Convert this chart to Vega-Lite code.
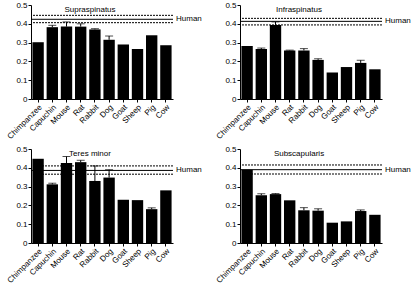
{
  "$schema": "https://vega.github.io/schema/vega-lite/v6.json",
  "padding": {"left": 5, "top": 1, "right": 0, "bottom": 0},
  "bounds": "flush",
  "spacing": {"column": 67, "row": 50},
  "columns": 2,
  "config": {
    "font": "Liberation Sans",
    "view": {"stroke": null},
    "axis": {"domainColor": "#000", "tickColor": "#000", "labelColor": "#000", "titleColor": "#333", "grid": false, "labelFontSize": 8, "tickSize": 3, "labelPadding": 1, "labelOverlap": false},
    "axisX": {"title": null, "labelAngle": -45, "labelFontSize": 8},
    "axisY": {"title": "Lfb/Lmn", "titleFontSize": 7, "titleFontWeight": "normal", "titleFontStyle": "italic", "titlePadding": 4, "tickCount": 5, "labelExpr": "datum.value == 0 ? '0' : format(datum.value, '.1f')"},
    "bar": {"color": "#000"},
    "rule": {"color": "#000"},
    "tick": {"color": "#000", "thickness": 1},
    "text": {"color": "#000", "fontSize": 8}
  },
  "datasets": {
    "bars": [
      {"muscle": "Supraspinatus", "species": "Chimpanzee", "v": 0.302},
      {"muscle": "Supraspinatus", "species": "Capuchin", "v": 0.382, "e": 0.392},
      {"muscle": "Supraspinatus", "species": "Mouse", "v": 0.385, "e": 0.41},
      {"muscle": "Supraspinatus", "species": "Rat", "v": 0.385, "e": 0.4},
      {"muscle": "Supraspinatus", "species": "Rabbit", "v": 0.37, "e": 0.374},
      {"muscle": "Supraspinatus", "species": "Dog", "v": 0.315, "e": 0.335},
      {"muscle": "Supraspinatus", "species": "Goat", "v": 0.29},
      {"muscle": "Supraspinatus", "species": "Sheep", "v": 0.266},
      {"muscle": "Supraspinatus", "species": "Pig", "v": 0.339},
      {"muscle": "Supraspinatus", "species": "Cow", "v": 0.286},
      {"muscle": "Infraspinatus", "species": "Chimpanzee", "v": 0.282},
      {"muscle": "Infraspinatus", "species": "Capuchin", "v": 0.266, "e": 0.271},
      {"muscle": "Infraspinatus", "species": "Mouse", "v": 0.394, "e": 0.41},
      {"muscle": "Infraspinatus", "species": "Rat", "v": 0.258, "e": 0.26},
      {"muscle": "Infraspinatus", "species": "Rabbit", "v": 0.258, "e": 0.268},
      {"muscle": "Infraspinatus", "species": "Dog", "v": 0.208, "e": 0.214},
      {"muscle": "Infraspinatus", "species": "Goat", "v": 0.141},
      {"muscle": "Infraspinatus", "species": "Sheep", "v": 0.17},
      {"muscle": "Infraspinatus", "species": "Pig", "v": 0.192, "e": 0.206},
      {"muscle": "Infraspinatus", "species": "Cow", "v": 0.158},
      {"muscle": "Teres minor", "species": "Chimpanzee", "v": 0.448},
      {"muscle": "Teres minor", "species": "Capuchin", "v": 0.312, "e": 0.318},
      {"muscle": "Teres minor", "species": "Mouse", "v": 0.425, "e": 0.46},
      {"muscle": "Teres minor", "species": "Rat", "v": 0.43, "e": 0.44},
      {"muscle": "Teres minor", "species": "Rabbit", "v": 0.33, "e": 0.41},
      {"muscle": "Teres minor", "species": "Dog", "v": 0.348, "e": 0.39},
      {"muscle": "Teres minor", "species": "Goat", "v": 0.23},
      {"muscle": "Teres minor", "species": "Sheep", "v": 0.228},
      {"muscle": "Teres minor", "species": "Pig", "v": 0.18, "e": 0.187},
      {"muscle": "Teres minor", "species": "Cow", "v": 0.28},
      {"muscle": "Subscapularis", "species": "Chimpanzee", "v": 0.39},
      {"muscle": "Subscapularis", "species": "Capuchin", "v": 0.254, "e": 0.262},
      {"muscle": "Subscapularis", "species": "Mouse", "v": 0.26, "e": 0.263},
      {"muscle": "Subscapularis", "species": "Rat", "v": 0.227},
      {"muscle": "Subscapularis", "species": "Rabbit", "v": 0.174, "e": 0.188},
      {"muscle": "Subscapularis", "species": "Dog", "v": 0.172, "e": 0.182},
      {"muscle": "Subscapularis", "species": "Goat", "v": 0.108},
      {"muscle": "Subscapularis", "species": "Sheep", "v": 0.115},
      {"muscle": "Subscapularis", "species": "Pig", "v": 0.17, "e": 0.176},
      {"muscle": "Subscapularis", "species": "Cow", "v": 0.15}
    ],
    "human": [
      {"muscle": "Supraspinatus", "kind": "mean", "h": 0.424},
      {"muscle": "Supraspinatus", "kind": "sd", "h": 0.406},
      {"muscle": "Supraspinatus", "kind": "sd", "h": 0.445},
      {"muscle": "Infraspinatus", "kind": "mean", "h": 0.413},
      {"muscle": "Infraspinatus", "kind": "sd", "h": 0.394},
      {"muscle": "Infraspinatus", "kind": "sd", "h": 0.429},
      {"muscle": "Teres minor", "kind": "mean", "h": 0.386},
      {"muscle": "Teres minor", "kind": "sd", "h": 0.366},
      {"muscle": "Teres minor", "kind": "sd", "h": 0.41},
      {"muscle": "Subscapularis", "kind": "mean", "h": 0.39},
      {"muscle": "Subscapularis", "kind": "sd", "h": 0.367},
      {"muscle": "Subscapularis", "kind": "sd", "h": 0.415}
    ]
  },
  "concat": [
    {
      "width": 142, "height": 94,
      "layer": [
        {"data": {"name": "bars"}, "transform": [{"filter": "datum.muscle == 'Supraspinatus'"}], "mark": "bar",
         "encoding": {"x": {"field": "species", "sort": null, "scale": {"paddingInner": 0.2, "paddingOuter": 0.1}}, "y": {"field": "v", "type": "quantitative", "scale": {"domain": [0, 0.5]}}}},
        {"data": {"name": "bars"}, "transform": [{"filter": "datum.muscle == 'Supraspinatus' && isValid(datum.e)"}], "mark": "rule",
         "encoding": {"x": {"field": "species", "sort": null}, "y": {"field": "v", "type": "quantitative"}, "y2": {"field": "e"}}},
        {"data": {"name": "bars"}, "transform": [{"filter": "datum.muscle == 'Supraspinatus' && isValid(datum.e)"}], "mark": {"type": "tick", "size": 8},
         "encoding": {"x": {"field": "species", "sort": null}, "y": {"field": "e", "type": "quantitative"}}},
        {"data": {"name": "human"}, "transform": [{"filter": "datum.muscle == 'Supraspinatus'"}], "mark": "rule",
         "encoding": {"y": {"field": "h", "type": "quantitative"}, "strokeDash": {"field": "kind", "scale": {"domain": ["mean", "sd"], "range": [[1, 0], [2, 1]]}, "legend": null}}},
        {"data": {"name": "human"}, "transform": [{"filter": "datum.muscle == 'Supraspinatus' && datum.kind == 'mean'"}], "mark": {"type": "text", "align": "left", "dx": 3},
         "encoding": {"x": {"value": "width"}, "y": {"field": "h", "type": "quantitative"}, "text": {"value": "Human"}}},
        {"data": {"name": "human"}, "transform": [{"filter": "datum.muscle == 'Supraspinatus' && datum.kind == 'mean'"}], "mark": {"type": "text", "dx": -12},
         "encoding": {"y": {"datum": 0.475}, "text": {"field": "muscle"}}}
      ]
    },
    {
      "width": 142, "height": 94,
      "layer": [
        {"data": {"name": "bars"}, "transform": [{"filter": "datum.muscle == 'Infraspinatus'"}], "mark": "bar",
         "encoding": {"x": {"field": "species", "sort": null, "scale": {"paddingInner": 0.2, "paddingOuter": 0.1}}, "y": {"field": "v", "type": "quantitative", "scale": {"domain": [0, 0.5]}}}},
        {"data": {"name": "bars"}, "transform": [{"filter": "datum.muscle == 'Infraspinatus' && isValid(datum.e)"}], "mark": "rule",
         "encoding": {"x": {"field": "species", "sort": null}, "y": {"field": "v", "type": "quantitative"}, "y2": {"field": "e"}}},
        {"data": {"name": "bars"}, "transform": [{"filter": "datum.muscle == 'Infraspinatus' && isValid(datum.e)"}], "mark": {"type": "tick", "size": 8},
         "encoding": {"x": {"field": "species", "sort": null}, "y": {"field": "e", "type": "quantitative"}}},
        {"data": {"name": "human"}, "transform": [{"filter": "datum.muscle == 'Infraspinatus'"}], "mark": "rule",
         "encoding": {"y": {"field": "h", "type": "quantitative"}, "strokeDash": {"field": "kind", "scale": {"domain": ["mean", "sd"], "range": [[1, 0], [2, 1]]}, "legend": null}}},
        {"data": {"name": "human"}, "transform": [{"filter": "datum.muscle == 'Infraspinatus' && datum.kind == 'mean'"}], "mark": {"type": "text", "align": "left", "dx": 3},
         "encoding": {"x": {"value": "width"}, "y": {"field": "h", "type": "quantitative"}, "text": {"value": "Human"}}},
        {"data": {"name": "human"}, "transform": [{"filter": "datum.muscle == 'Infraspinatus' && datum.kind == 'mean'"}], "mark": {"type": "text", "dx": -12},
         "encoding": {"y": {"datum": 0.475}, "text": {"field": "muscle"}}}
      ]
    },
    {
      "width": 142, "height": 94,
      "layer": [
        {"data": {"name": "bars"}, "transform": [{"filter": "datum.muscle == 'Teres minor'"}], "mark": "bar",
         "encoding": {"x": {"field": "species", "sort": null, "scale": {"paddingInner": 0.2, "paddingOuter": 0.1}}, "y": {"field": "v", "type": "quantitative", "scale": {"domain": [0, 0.5]}}}},
        {"data": {"name": "bars"}, "transform": [{"filter": "datum.muscle == 'Teres minor' && isValid(datum.e)"}], "mark": "rule",
         "encoding": {"x": {"field": "species", "sort": null}, "y": {"field": "v", "type": "quantitative"}, "y2": {"field": "e"}}},
        {"data": {"name": "bars"}, "transform": [{"filter": "datum.muscle == 'Teres minor' && isValid(datum.e)"}], "mark": {"type": "tick", "size": 8},
         "encoding": {"x": {"field": "species", "sort": null}, "y": {"field": "e", "type": "quantitative"}}},
        {"data": {"name": "human"}, "transform": [{"filter": "datum.muscle == 'Teres minor'"}], "mark": "rule",
         "encoding": {"y": {"field": "h", "type": "quantitative"}, "strokeDash": {"field": "kind", "scale": {"domain": ["mean", "sd"], "range": [[1, 0], [2, 1]]}, "legend": null}}},
        {"data": {"name": "human"}, "transform": [{"filter": "datum.muscle == 'Teres minor' && datum.kind == 'mean'"}], "mark": {"type": "text", "align": "left", "dx": 3},
         "encoding": {"x": {"value": "width"}, "y": {"field": "h", "type": "quantitative"}, "text": {"value": "Human"}}},
        {"data": {"name": "human"}, "transform": [{"filter": "datum.muscle == 'Teres minor' && datum.kind == 'mean'"}], "mark": {"type": "text", "dx": -12},
         "encoding": {"y": {"datum": 0.475}, "text": {"field": "muscle"}}}
      ]
    },
    {
      "width": 142, "height": 94,
      "layer": [
        {"data": {"name": "bars"}, "transform": [{"filter": "datum.muscle == 'Subscapularis'"}], "mark": "bar",
         "encoding": {"x": {"field": "species", "sort": null, "scale": {"paddingInner": 0.2, "paddingOuter": 0.1}}, "y": {"field": "v", "type": "quantitative", "scale": {"domain": [0, 0.5]}}}},
        {"data": {"name": "bars"}, "transform": [{"filter": "datum.muscle == 'Subscapularis' && isValid(datum.e)"}], "mark": "rule",
         "encoding": {"x": {"field": "species", "sort": null}, "y": {"field": "v", "type": "quantitative"}, "y2": {"field": "e"}}},
        {"data": {"name": "bars"}, "transform": [{"filter": "datum.muscle == 'Subscapularis' && isValid(datum.e)"}], "mark": {"type": "tick", "size": 8},
         "encoding": {"x": {"field": "species", "sort": null}, "y": {"field": "e", "type": "quantitative"}}},
        {"data": {"name": "human"}, "transform": [{"filter": "datum.muscle == 'Subscapularis'"}], "mark": "rule",
         "encoding": {"y": {"field": "h", "type": "quantitative"}, "strokeDash": {"field": "kind", "scale": {"domain": ["mean", "sd"], "range": [[1, 0], [2, 1]]}, "legend": null}}},
        {"data": {"name": "human"}, "transform": [{"filter": "datum.muscle == 'Subscapularis' && datum.kind == 'mean'"}], "mark": {"type": "text", "align": "left", "dx": 3},
         "encoding": {"x": {"value": "width"}, "y": {"field": "h", "type": "quantitative"}, "text": {"value": "Human"}}},
        {"data": {"name": "human"}, "transform": [{"filter": "datum.muscle == 'Subscapularis' && datum.kind == 'mean'"}], "mark": {"type": "text", "dx": -12},
         "encoding": {"y": {"datum": 0.475}, "text": {"field": "muscle"}}}
      ]
    }
  ]
}
